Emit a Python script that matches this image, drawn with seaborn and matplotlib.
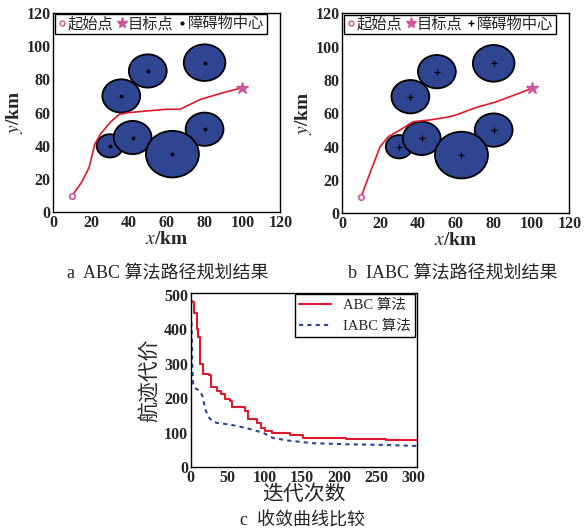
import numpy as np
import pandas as pd
import matplotlib
matplotlib.use('Agg')
import matplotlib.pyplot as plt
from matplotlib.patches import Circle
from matplotlib.lines import Line2D
import seaborn as sns

sns.set_style('white')
plt.rcParams['font.family'] = ['Liberation Serif', 'Noto Sans CJK SC']
plt.rcParams['mathtext.fontset'] = 'stix'

# obstacles: centre x, centre y, radius (km)
obs_x = [30, 42, 36, 50, 80, 80, 63]
obs_y = [40, 45, 70, 85, 90, 50, 35]
obs_r = [7, 10, 10, 10, 11, 10, 14]

start_pt = (10, 10)
goal_pt = (100, 75)

# planned paths
abc_path_x = [10, 15, 19, 22, 25, 30, 35, 40, 50, 60, 67, 78, 90, 100]
abc_path_y = [10, 18, 27, 41, 47, 54, 59, 60, 61, 62, 62, 68, 72, 75]
iabc_path_x = [10, 14.6, 20, 24.3, 30.5, 37.5, 46, 55, 60, 71, 81.6, 95.7, 100]
iabc_path_y = [10, 24, 40, 46, 50, 55, 56, 57.6, 59, 63.6, 67, 73, 75]

# convergence curves
abc_iter = [0, 1, 5, 8, 10, 13, 16, 25, 27, 35, 41, 46, 53, 55, 66, 73, 77, 89, 95, 100,
            109, 134, 147, 152, 210, 258, 264, 305]
abc_cost = [480, 478, 446, 400, 378, 300, 270, 268, 231, 221, 211, 197, 192, 175, 175, 162, 138, 128, 113, 104,
            99, 94, 92, 85, 82, 82, 77, 77]
iabc_iter = [0, 1, 2, 3, 5, 8, 12, 16, 19, 23, 28, 35, 53, 75, 98, 111, 134, 165, 210, 260, 305]
iabc_cost = [420, 417, 300, 245, 230, 226, 221, 205, 172, 148, 135, 128, 123, 113, 99, 84, 76, 69, 66, 64, 61]

blue = '#2f4592'
red = '#e0182c'
pink = '#cc55a0'

fig = plt.figure(figsize=(5.87, 5.31), dpi=100)
ax_a = fig.add_axes([0.0905, 0.600, 0.387, 0.376])
ax_b = fig.add_axes([0.583, 0.598, 0.387, 0.377])
ax_c = fig.add_axes([0.325, 0.1205, 0.385, 0.328])


def style_ticks(ax):
    ax.tick_params(direction='in', length=3, labelsize=11.5, pad=2)
    for lab in ax.get_xticklabels() + ax.get_yticklabels():
        lab.set_fontweight('bold')
    for sp in ax.spines.values():
        sp.set_color('black')
        sp.set_linewidth(1.0)


def draw_path(ax, px, py, centre_marker):
    for cx, cy, r in zip(obs_x, obs_y, obs_r):
        ax.add_patch(Circle((cx, cy), r, facecolor=blue, edgecolor='black', lw=1.3, zorder=2))
    sns.scatterplot(x=obs_x, y=obs_y, marker=centre_marker, color='black', edgecolor='black',
                    s=14, linewidth=0.9, ax=ax, zorder=3)
    sns.lineplot(x=px, y=py, sort=False, color=red, lw=1.2, ax=ax, zorder=4)
    ax.plot(*start_pt, marker='o', ms=4, mfc='white', mec=pink, mew=1.2, zorder=5)
    ax.plot(*goal_pt, marker='*', ms=9, color=pink, zorder=5)
    ax.set_xlim(0, 120)
    ax.set_ylim(0, 120)
    ax.set_xticks(range(0, 121, 20))
    ax.set_yticks(range(0, 121, 20))
    style_ticks(ax)
    ax.set_xlabel('$x$/km', fontsize=14, fontweight='bold', labelpad=0)
    ax.set_ylabel('$y$/km', fontsize=14, fontweight='bold', labelpad=1)
    handles = [
        Line2D([], [], ls='none', marker='o', ms=3.5, mfc='white', mec=pink, mew=1),
        Line2D([], [], ls='none', marker='*', ms=8, color=pink),
        Line2D([], [], ls='none', marker=centre_marker, ms=4, color='black'),
    ]
    ax.legend(handles, ['起始点', '目标点', '障碍物中心'], loc='upper left', ncol=3,
              fontsize=11, handlelength=0.6, handletextpad=0.1, columnspacing=0.25,
              borderpad=0.15, borderaxespad=0.1, frameon=True, fancybox=False,
              edgecolor='black', framealpha=1)


draw_path(ax_a, abc_path_x, abc_path_y, '.')
draw_path(ax_b, iabc_path_x, iabc_path_y, '+')

conv_abc = pd.DataFrame({'iter': abc_iter, 'cost': abc_cost})
conv_iabc = pd.DataFrame({'iter': iabc_iter, 'cost': iabc_cost})
sns.lineplot(data=conv_abc, x='iter', y='cost', color=red, lw=1.5, drawstyle='steps-post',
             ax=ax_c, label='ABC 算法')
sns.lineplot(data=conv_iabc, x='iter', y='cost', color=blue, lw=1.5, ax=ax_c,
             label='IABC 算法', linestyle=(0, (2, 2)))
ax_c.set_xlim(0, 305)
ax_c.set_ylim(0, 505)
ax_c.set_xticks(range(0, 301, 50))
ax_c.set_yticks(range(0, 501, 100))
style_ticks(ax_c)
ax_c.set_xlabel('迭代次数', fontsize=15, labelpad=0)
ax_c.set_ylabel('航迹代价', fontsize=15, labelpad=2)
ax_c.legend(loc='upper right', fontsize=10.5, handlelength=2.2, frameon=True, fancybox=False,
            edgecolor='black', framealpha=1, borderaxespad=0.1, borderpad=0.3)

fig.text(0.285, 0.484, 'a  ABC 算法路径规划结果', ha='center', va='center', fontsize=13)
fig.text(0.772, 0.484, 'b  IABC 算法路径规划结果', ha='center', va='center', fontsize=13)
fig.text(0.515, 0.018, 'c  收敛曲线比较', ha='center', va='center', fontsize=13)

fig.savefig('out.png', dpi=100)
